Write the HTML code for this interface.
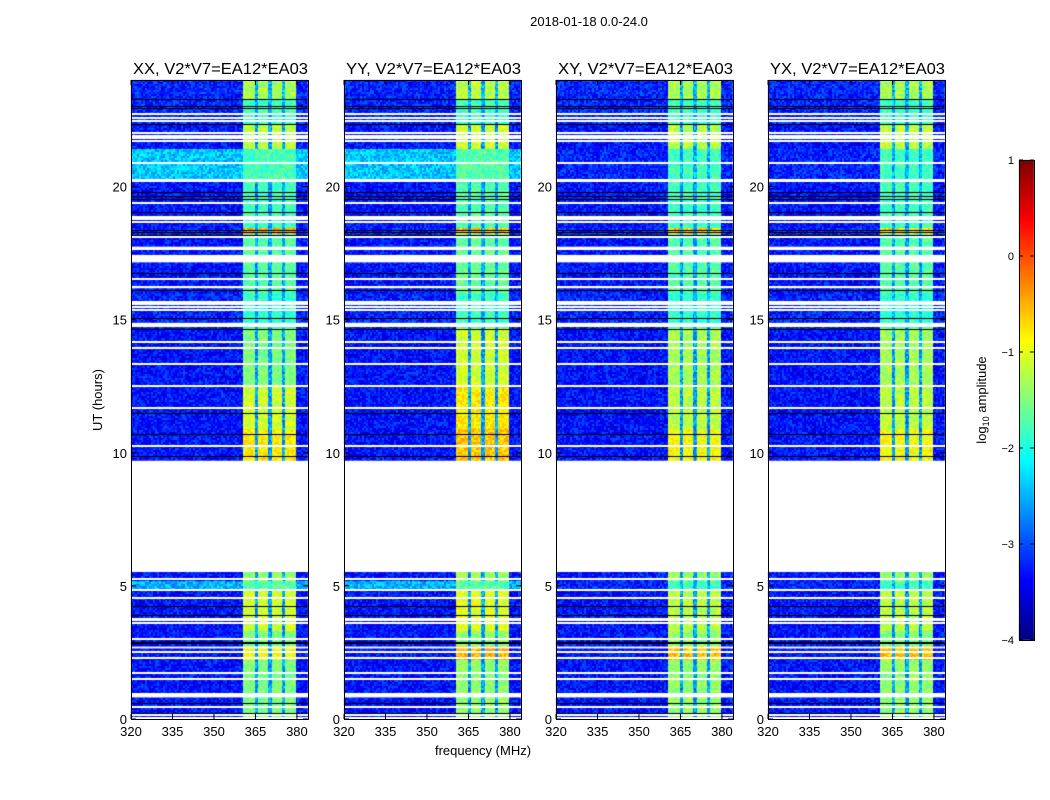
<!DOCTYPE html>
<html><head><meta charset="utf-8"><style>
body{margin:0;background:#fff;width:1050px;height:800px;overflow:hidden;font-family:"Liberation Sans",sans-serif}
#wrap{position:relative;width:1050px;height:800px}
canvas,svg{position:absolute;left:0;top:0}
</style></head><body>
<div id="wrap">
<canvas id="cv" width="1050" height="800"></canvas>
<svg id="sv" width="1050" height="800"></svg>
</div>
<script>
// ---- data ----
const panelNames = ["XX, V2*V7=EA12*EA03","YY, V2*V7=EA12*EA03","XY, V2*V7=EA12*EA03","YX, V2*V7=EA12*EA03"];
const xTicks = [320,335,350,365,380];
const yTicks = [0,5,10,15,20];
const cbTicks = [1,0,-1,-2,-3,-4];
const cbLabels = ["1","0","\u22121","\u22122","\u22123","\u22124"];
const subBands = [[360.4,364.7],[366.0,369.6],[370.9,374.6],[375.7,379.8]];
const segBounds = [0,2.2,2.75,3.3,4.9,5.2,5.53,9.7,10.9,12.5,14.7,16.0,18.2,18.45,20.2,21.4,22.35,23.3,24];
const bandXX = [-1.5,-0.9,-1.5,-1.1,-1.7,-1.4,NaN,-0.8,-1.1,-1.5,-1.9,-1.7,-0.5,-1.8,-1.8,-1.2,-1.8,-1.3];
const bandYY = [-1.4,-0.5,-1.4,-1.0,-1.7,-1.3,NaN,-0.6,-0.8,-1.1,-1.8,-1.6,-0.6,-1.7,-1.7,-1.1,-1.8,-1.2];
const bandXY = [-1.4,-0.6,-1.4,-1.2,-1.8,-1.4,NaN,-0.9,-1.2,-1.3,-1.9,-1.7,-0.6,-1.8,-1.8,-1.2,-1.8,-1.3];
const bandYX = [-1.4,-0.6,-1.5,-1.2,-1.8,-1.4,NaN,-0.9,-1.2,-1.3,-1.9,-1.7,-0.7,-1.8,-1.8,-1.2,-1.8,-1.3];
const bgXX = [-3.3,-3.3,-3.3,-3.3,-2.5,-3.3,NaN,-3.3,-3.3,-3.3,-3.2,-3.3,-3.2,-3.3,-2.4,-3.3,-3.2,-3.2];
const bgYY = [-3.3,-3.3,-3.3,-3.3,-2.5,-3.3,NaN,-3.3,-3.3,-3.3,-3.2,-3.3,-3.2,-3.3,-2.4,-3.3,-3.2,-3.2];
const bgXY = [-3.3,-3.3,-3.3,-3.3,-3.2,-3.3,NaN,-3.3,-3.3,-3.3,-3.2,-3.3,-3.2,-3.3,-3.2,-3.3,-3.2,-3.2];
const bgYX = [-3.3,-3.3,-3.3,-3.3,-3.2,-3.3,NaN,-3.3,-3.3,-3.3,-3.2,-3.3,-3.2,-3.3,-3.2,-3.3,-3.2,-3.2];
const flagged = [[5.53,9.7],[17.15,17.43],[0.81,0.96],[14.73,14.88],[20.18,20.27],[17.62,17.74],[3.69,3.78],[2.65,2.72],[16.18,16.26]];
const whiteLines = [22.71,22.56,22.47,22.0,21.9,21.81,21.7,20.9,19.37,18.84,18.77,18.68,18.09,16.53,15.67,15.59,15.49,15.37,14.15,13.92,13.33,12.5,11.67,10.27,5.25,4.85,4.53,3.59,2.99,2.53,2.28,1.71,1.49,0.46,0.15,0.05];
const blackLines = [23.28,23.02,22.95,22.33,19.8,19.66,19.53,19.03,18.37,18.3,18.18,16.74,16.11,15.07,14.63,11.5,10.69,9.88,4.25,3.9,2.9,2.84,0.59,0.22];
const bandSets=[bandXX,bandYY,bandXY,bandYX], bgSets=[bgXX,bgYY,bgXY,bgYX];

// ---- geometry ----
const panelX=[131,344,556,768], PW=177, Y0=80, Y1=719;
const fMin=320,fMax=384;
const fx=(p,f)=>panelX[p]+(f-fMin)/(fMax-fMin)*PW;
const hy=h=>Y1-(h/24)*(Y1-Y0);
const cbTop=160,cbBot=640,cbX=1019,cbW=15;
const cy=v=>cbTop+(1-v)/5*(cbBot-cbTop);

function jet(v){
  let t=Math.max(0,Math.min(1,(v+4)/5));
  const c=x=>Math.max(0,Math.min(1,x));
  let r=c(1.5-Math.abs(4*t-3)),g=c(1.5-Math.abs(4*t-2)),b=c(1.5-Math.abs(4*t-1));
  return [r*255|0,g*255|0,b*255|0];
}
function hash(a,b,c){let h=(a*374761393+b*668265263+c*2147483647)|0;h=(h^(h>>>13))*1274126177|0;h^=h>>>16;return ((h>>>0)%10000)/10000;}

const cv=document.getElementById('cv'),ctx=cv.getContext('2d');
ctx.fillStyle='#fff';ctx.fillRect(0,0,1050,800);
for(let p=0;p<4;p++){
  const img=ctx.createImageData(PW,Y1-Y0);
  for(let py=0;py<Y1-Y0;py++){
    const h=24-(py+0.5)/(Y1-Y0)*24;
    let s=0;while(s<segBounds.length-2&&h>=segBounds[s+1])s++;
    const band=bandSets[p][s],bg=bgSets[p][s];
    let white=isNaN(band)||flagged.some(r=>h>=r[0]&&h<=r[1]);
    for(let px=0;px<PW;px++){
      const i=(py*PW+px)*4;
      if(white){img.data[i]=img.data[i+1]=img.data[i+2]=img.data[i+3]=255;continue;}
      const f=fMin+(px+0.5)/PW*(fMax-fMin);
      let lvl=bg,inB=false;
      for(const sb of subBands){if(f>=sb[0]&&f<=sb[1]){lvl=band;inB=true;}}
      if(!inB&&f>subBands[0][0]&&f<subBands[3][1])lvl=bg+0.7;
      const n=hash(px>>1,py>>1,p)-0.5;
      lvl+=n*(inB?0.5:0.7);
      const col=jet(lvl);
      img.data[i]=col[0];img.data[i+1]=col[1];img.data[i+2]=col[2];img.data[i+3]=255;
    }
  }
  ctx.putImageData(img,panelX[p],Y0);
  for(const w of whiteLines){ctx.fillStyle='#fff';ctx.fillRect(panelX[p],Math.round(hy(w))-1,PW,2);}
  for(const b of blackLines){ctx.fillStyle='#000';ctx.fillRect(panelX[p],Math.round(hy(b)),PW,1);}
  for(const r of flagged){ctx.fillStyle='#fff';ctx.fillRect(panelX[p],hy(r[1]),PW,hy(r[0])-hy(r[1]));}
}
for(let y=cbTop;y<cbBot;y++){const v=1-(y-cbTop)/(cbBot-cbTop)*5;const c=jet(v);ctx.fillStyle=`rgb(${c[0]},${c[1]},${c[2]})`;ctx.fillRect(cbX,y,cbW,1);}

// ---- svg overlay ----
const sv=document.getElementById('sv'),NS='http://www.w3.org/2000/svg';
function el(tag,attrs,txt){const e=document.createElementNS(NS,tag);for(const k in attrs)e.setAttribute(k,attrs[k]);if(txt!==undefined)e.textContent=txt;sv.appendChild(e);return e;}
let t=el('text',{x:589,y:26,'font-size':13,'text-anchor':'middle'},'2018-01-18 0.0-24.0');


for(let p=0;p<4;p++){
  const x0=panelX[p];
  const fr=el('rect',{x:x0+0.5,y:Y0+0.5,width:PW,height:Y1-Y0,fill:'none',stroke:'#000','stroke-width':1});
  
  
  const tt=el('text',{x:x0+PW/2+1,y:74,'font-size':16,'text-anchor':'middle',textLength:175,lengthAdjust:'spacingAndGlyphs'},panelNames[p]);
  
  
  xTicks.forEach(v=>{const x=fx(p,v);
    el('line',{x1:x,x2:x,y1:Y1,y2:Y1-5,stroke:'#000'});el('line',{x1:x,x2:x,y1:Y0,y2:Y0+5,stroke:'#000'});
    const l=el('text',{x:x,y:Y1+17,'font-size':13,'text-anchor':'middle'},String(v));
    
    });
  yTicks.forEach(v=>{const y=hy(v);
    el('line',{x1:x0,x2:x0+5,y1:y,y2:y,stroke:'#000'});el('line',{x1:x0+PW,x2:x0+PW-5,y1:y,y2:y,stroke:'#000'});
    const l=el('text',{x:x0-4,y:y+5,'font-size':13,'text-anchor':'end'},String(v));
    
    });
}
t=el('text',{x:102,y:400,'font-size':13,'text-anchor':'middle',transform:'rotate(-90 102 400)'},'UT (hours)');


t=el('text',{x:483,y:755,'font-size':13,'text-anchor':'middle'},'frequency (MHz)');


const cbf=el('rect',{x:cbX+0.5,y:cbTop+0.5,width:cbW,height:cbBot-cbTop,fill:'none',stroke:'#000'});


cbTicks.forEach((v,i)=>{const y=cy(v);
  el('line',{x1:cbX,x2:cbX+4,y1:y,y2:y,stroke:'#000'});el('line',{x1:cbX+cbW,x2:cbX+cbW-4,y1:y,y2:y,stroke:'#000'});
  const l=el('text',{x:cbX-5,y:y+4,'font-size':11,'text-anchor':'end'},cbLabels[i]);
  
  });
t=el('text',{x:986,y:400,'font-size':13,'text-anchor':'middle',transform:'rotate(-90 986 400)'});
t.innerHTML='log<tspan font-size="9" dy="3">10</tspan><tspan dy="-3"> amplitude</tspan>';


</script>
</body></html>
